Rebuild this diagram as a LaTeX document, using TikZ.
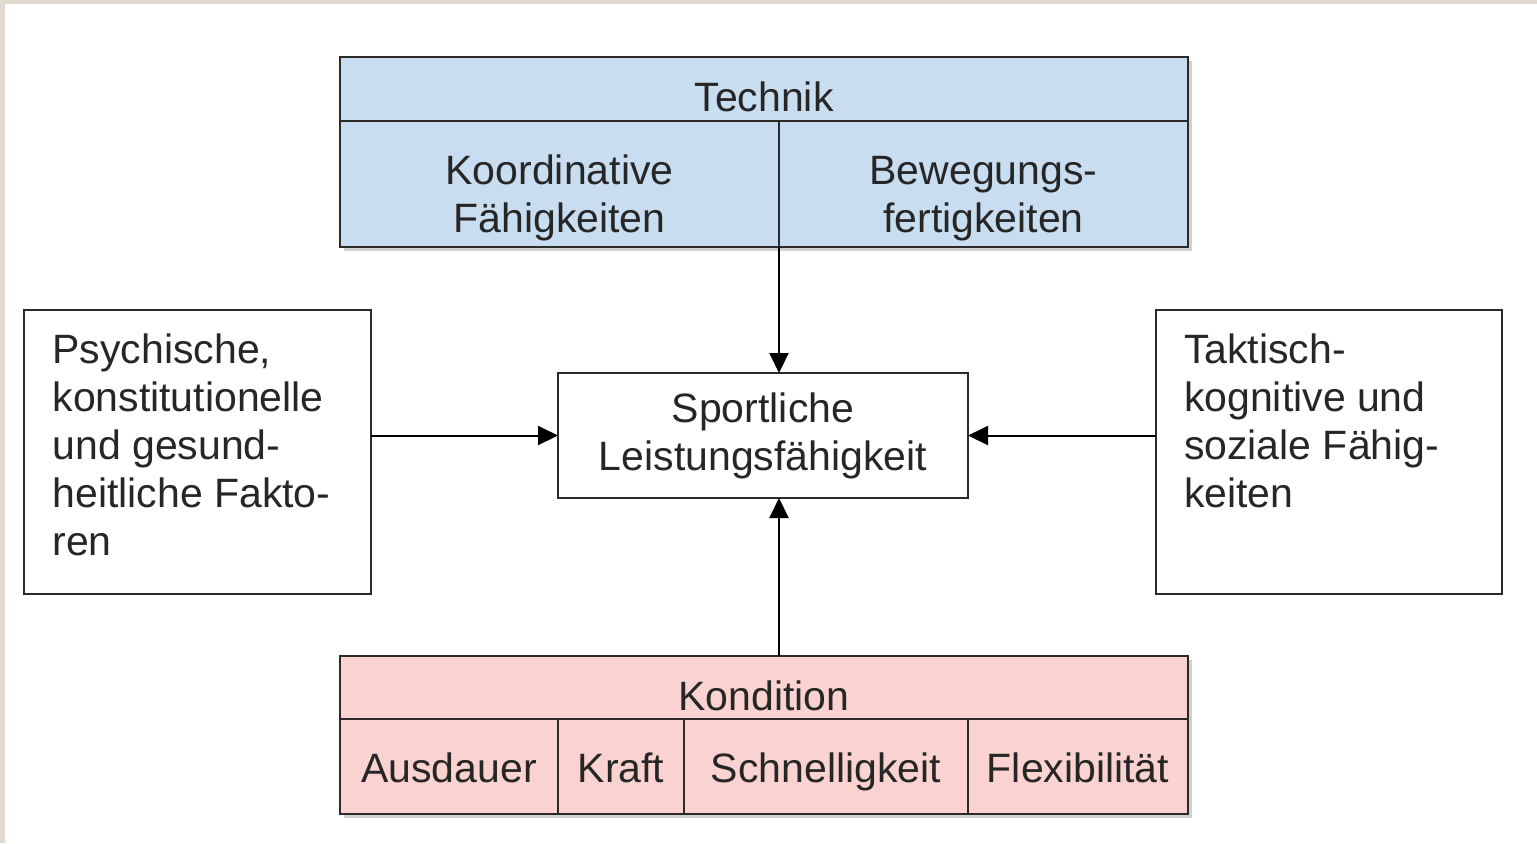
\documentclass[tikz,border=0pt]{standalone}
\usepackage{fontspec}
\setmainfont{Liberation Sans}
\usepackage{xcolor}
\usepackage{tikz}
\usetikzlibrary{arrows.meta,positioning}
\definecolor{techblue}{HTML}{C9DDF0}
\definecolor{kondpink}{HTML}{FAD2D0}
\definecolor{framebeige}{HTML}{E0D9CD}
\definecolor{boxline}{HTML}{2A2A2A}
\tikzset{cell/.style={
    % The shape:
    rectangle,inner sep=0pt,outer sep=0pt,align=center,
    % The rest
    line width=1pt,draw=boxline,text=black!85,
    font=\fontsize{20.5}{24}\selectfont
  },
  headcell/.style={cell,minimum width=424pt,text height=24.75pt,text depth=2pt},
  partcell/.style={cell,minimum height=47.5pt,text height=17.5pt,text depth=1.5pt},
  sidebox/.style={
    cell,inner xsep=14pt,inner ysep=12pt,align=left,
    minimum width=173.5pt,minimum height=142pt,fill=white
  },
  shade/.style={fill=black!18},
  arr/.style={line width=1pt,-{Triangle[length=10pt,width=9.5pt]}}
}
\newcommand{\sidetext}[1]{\parbox[c][118pt][t]{145pt}{\raggedright #1}}
\newcommand{\tworows}[1]{\raisebox{-7.5pt}[\height][\depth]{%
    \begin{tabular}{@{}c@{}}#1\end{tabular}}}

\begin{document}
\begin{tikzpicture}[x=0.5pt,y=-0.5pt]
  \useasboundingbox (0,0) rectangle (1537,843);
  \fill[white] (0,0) rectangle (1537,843);
  \fill[framebeige] (0,0) rectangle (1537,4);
  \fill[framebeige] (0,0) rectangle (5,843);

  % shadows behind the two tables
  \fill[shade] (344,61) rectangle (1192,251);
  \fill[shade] (344,660) rectangle (1192,818);

  % Technik
  \node (technik) [headcell,fill=techblue,minimum height=32pt]
    at (764,89) {Technik};
  \node (koord) [cell,fill=techblue,minimum width=219.5pt,minimum height=63pt,
    anchor=north west] at (technik.south west)
    {\tworows{Koordinative\\Fähigkeiten}};
  \node (beweg) [cell,fill=techblue,minimum width=204.5pt,minimum height=63pt,
    right=0pt of koord] {\tworows{Bewegungs-\\fertigkeiten}};

  % centre
  \node (leist) [cell,fill=white,minimum width=205pt,minimum height=62.5pt]
    at (763,435.5) {Sportliche\\Leistungsfähigkeit};

  % sides
  \node (psych) [sidebox] at (197.5,452) {\sidetext{Psychische,\\
    konstitutionelle\\ und gesund-\\ heitliche Fakto-\\ ren}};
  \node (takt) [sidebox,minimum width=173pt] at (1329,452) {\sidetext{Taktisch-\\
    kognitive und\\ soziale Fähig-\\ keiten}};

  % Kondition
  \node (kondition) [headcell,fill=kondpink,minimum height=31.5pt]
    at (764,687.5) {Kondition};
  \node (ausdauer) [partcell,fill=kondpink,minimum width=109pt,
    anchor=north west] at (kondition.south west) {Ausdauer};
  \node (kraft) [partcell,fill=kondpink,minimum width=63pt,
    right=0pt of ausdauer] {Kraft};
  \node (schnell) [partcell,fill=kondpink,minimum width=142pt,
    right=0pt of kraft] {Schnelligkeit};
  \node (flex) [partcell,fill=kondpink,minimum width=110pt,
    right=0pt of schnell] {Flexibilität};

  \draw[arr] (koord.south east) -- (koord.south east |- leist.north);
  \draw[arr] (kondition.north -| koord.east) -- (leist.south -| koord.east);
  \draw[arr] (psych.east |- leist.west) -- (leist.west);
  \draw[arr] (takt.west |- leist.east) -- (leist.east);
\end{tikzpicture}
\end{document}
